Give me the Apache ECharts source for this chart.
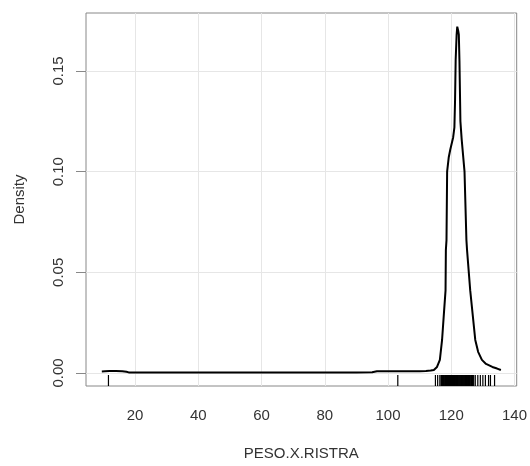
<!DOCTYPE html>
<html>
	<head>
		<meta charset="utf-8" />
		<title>Density PESO.X.RISTRA</title>
		<style type="text/css">
			html,body{
				margin: 0;
				width: 100%;
				height: 100%;
				background: #fff;
			}
		</style>
	</head>
	<body>
		<div id="main" style="width:530px;height:466px;"></div>
		<script src="https://cdn.jsdelivr.net/npm/echarts@6/dist/echarts.min.js"></script>
		<script>
			// density curve
			var densX = [9.5, 10.5, 12, 14, 16, 17.3, 18, 30, 50, 70, 90, 95, 96.5, 100, 105, 110, 112, 113.5, 114.5, 115.5, 116.4, 117.1, 117.7, 118.2, 118.3, 118.5, 118.7, 119.2, 119.7, 120.3, 120.6, 121.0, 121.2, 121.4, 121.7, 121.9, 122.2, 122.4, 122.6, 122.9, 123.3, 124.2, 124.8, 125.0, 126.0, 127.6, 128.5, 129.7, 131, 133, 134.5, 135.7];
			var densY = [0.0008, 0.0009, 0.001, 0.001, 0.0009, 0.0006, 0.0003, 0.0003, 0.0003, 0.0003, 0.0003, 0.0004, 0.0009, 0.0009, 0.0009, 0.0009, 0.001, 0.0012, 0.0015, 0.003, 0.0065, 0.0164, 0.03, 0.041, 0.061, 0.066, 0.1, 0.107, 0.111, 0.115, 0.117, 0.122, 0.135, 0.1556, 0.168, 0.172, 0.17, 0.168, 0.155, 0.125, 0.116, 0.1, 0.066, 0.061, 0.041, 0.0164, 0.0105, 0.0065, 0.0045, 0.003, 0.0022, 0.0015];
			// rug (observations)
			var rugX = [11.6, 103.1, 115.0, 115.7, 116.4, 116.8, 116.9, 117.0, 117.2, 117.3, 117.5, 117.6, 117.8, 118.0, 118.1, 118.2, 118.4, 118.5, 118.7, 118.8, 119.0, 119.1, 119.2, 119.4, 119.5, 119.7, 119.8, 120.0, 120.1, 120.3, 120.4, 120.5, 120.7, 120.8, 121.0, 121.1, 121.2, 121.4, 121.5, 121.6, 121.7, 121.9, 122.0, 122.1, 122.2, 122.4, 122.5, 122.7, 122.8, 123.0, 123.1, 123.2, 123.4, 123.5, 123.7, 123.8, 124.0, 124.1, 124.3, 124.4, 124.5, 124.7, 124.8, 125.0, 125.1, 125.3, 125.4, 125.5, 125.7, 125.8, 126.0, 126.2, 126.4, 126.5, 126.7, 126.9, 127.1, 127.6, 128.4, 129.2, 130.0, 130.8, 131.8, 132.4, 133.7];
			var xTicks = [20, 40, 60, 80, 100, 120, 140];
			var yTicks = [0, 0.05, 0.10, 0.15];

			var xMin = 4.5, xMax = 140.7;
			var yMin = -0.00646, yMax = 0.1788;

			var curve = [];
			for(var i = 0; i < densX.length; i++) {
				curve.push([densX[i], densY[i]]);
			}
			var rug = [];
			for(var j = 0; j < rugX.length; j++) {
				rug.push([rugX[j], 0]);
			}
			var gridLines = [];
			for(var a = 0; a < xTicks.length; a++) gridLines.push({xAxis: xTicks[a]});
			for(var b = 0; b < yTicks.length; b++) gridLines.push({yAxis: yTicks[b]});

			var font = 'Liberation Sans';
			var myChart = echarts.init(document.getElementById('main'));
			var option = {
				animation: false,
				grid: {
					left: 86,
					right: 12,
					top: 13,
					bottom: 80,
					show: true,
					borderColor: '#888',
					borderWidth: 1
				},
				xAxis: {
					type: 'value',
					min: xMin,
					max: xMax,
					name: 'PESO.X.RISTRA',
					nameLocation: 'middle',
					nameGap: 60,
					nameTextStyle: {color: '#333', fontSize: 15, fontFamily: font},
					axisLine: {show: false},
					splitLine: {show: false},
					axisTick: {show: true, customValues: xTicks, length: 10, lineStyle: {color: '#888'}},
					axisLabel: {customValues: xTicks, margin: 22, color: '#333', fontSize: 15, fontFamily: font}
				},
				yAxis: {
					type: 'value',
					min: yMin,
					max: yMax,
					name: 'Density',
					nameLocation: 'middle',
					nameGap: 59,
					nameTextStyle: {color: '#333', fontSize: 15, fontFamily: font},
					axisLine: {show: false},
					splitLine: {show: false},
					axisTick: {show: true, customValues: yTicks, length: 10, lineStyle: {color: '#888'}},
					axisLabel: {
						customValues: yTicks,
						rotate: 90,
						margin: 20,
						color: '#333',
						fontSize: 15,
						fontFamily: font,
						formatter: function(v) { return v.toFixed(2); }
					}
				},
				series: [{
					type: 'line',
					data: curve,
					showSymbol: false,
					lineStyle: {color: '#000', width: 2},
					markLine: {
						silent: true,
						symbol: 'none',
						label: {show: false},
						lineStyle: {color: '#e6e6e6', width: 1, type: 'solid'},
						data: gridLines,
						z: 1
					},
					z: 3
				}, {
					type: 'custom',
					data: rug,
					encode: {x: 0, y: 1},
					renderItem: function(params, api) {
						var p = api.coord([api.value(0), yMin]);
						return {
							type: 'line',
							shape: {x1: p[0], y1: p[1], x2: p[0], y2: p[1] - 11},
							style: {stroke: '#000', lineWidth: 1.2}
						};
					},
					z: 4
				}]
			};
			myChart.setOption(option);
		</script>
	</body>
</html>
